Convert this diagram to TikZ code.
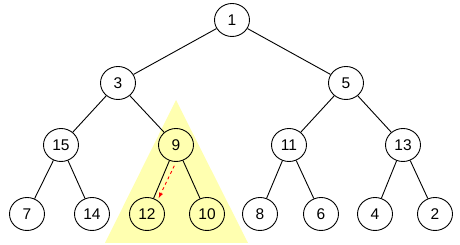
\documentclass[tikz,border=0pt]{standalone}
\usepackage{fontspec}
\setmainfont{Liberation Sans}
\usetikzlibrary{shapes.geometric,calc}

\definecolor{hilite}{RGB}{255,255,176}

\tikzset{
  heapnode/.style={ellipse, draw, fill=white, line width=0.9pt,
    minimum width=35pt, minimum height=33pt, inner sep=0pt,
    font=\fontsize{15.5}{17}\selectfont},
  marked/.style={fill=hilite},
}

\begin{document}
\begin{tikzpicture}[x=1pt, y=-1pt]
    \useasboundingbox (0,0) rectangle (460,245);
    \coordinate (T) at (176,100);
    \coordinate (L) at (105,243);
    \coordinate (R) at (248,243);
    \fill[hilite] (T) -- (L) -- (R) -- cycle;
    \foreach \N/\x/\y/\s in {1/232/20/, 3/118/83/, 5/346/83/,
        15/61/145/, 9/176/145/marked, 11/289/145/, 13/403/145/,
        7/27/214/, 14/92/214/, 12/147/214/marked, 10/207/214/marked,
        8/260/214/, 6/321/214/, 4/375/214/, 2/435/214/}
      { \node[heapnode, \s] (n\N) at (\x,\y) {\N}; }
    \foreach \A/\B in {1/3, 1/5, 3/15, 3/9, 5/11, 5/13, 15/7, 15/14,
        9/12, 9/10, 11/8, 11/6, 13/4, 13/2}
      { \draw[line width=0.9pt] (n\A) -- (n\B); }
    \draw[red, dashed, line width=0.9pt, -latex]
      ($(n9)!0.3!(n12)+(7,0)$) -- ($(n9)!0.77!(n12)+(5,0)$);
\end{tikzpicture}
\end{document}
